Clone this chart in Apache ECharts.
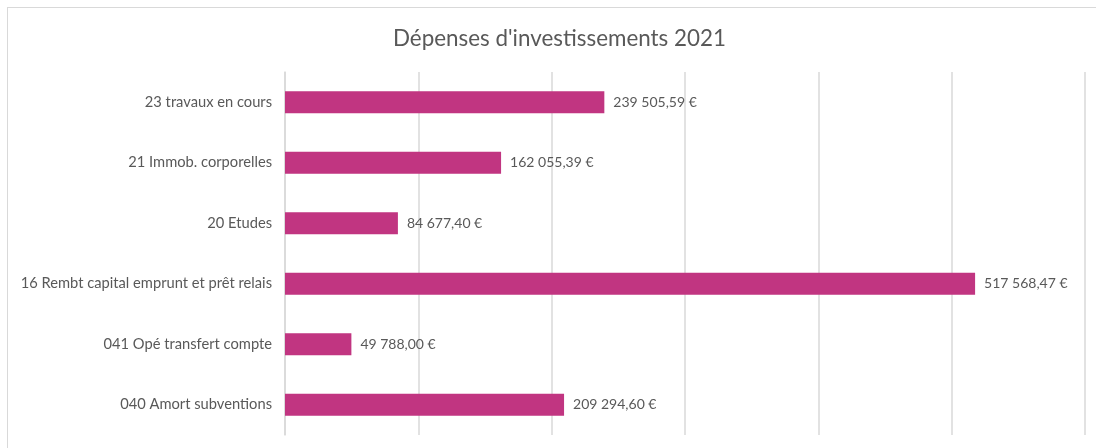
<!DOCTYPE html>
<html>
<head>
<meta charset="utf-8">
<script src="https://cdn.jsdelivr.net/npm/echarts@6/dist/echarts.min.js"></script>
<style>
  html, body { margin: 0; padding: 0; background: #fff; }
  #frame { position: absolute; left: 7px; top: 7px; width: 1200px; height: 600px; border: 1px solid #d9d9d9; }
  #chart { position: absolute; left: 0; top: 0; width: 1096px; height: 448px; }
</style>
</head>
<body>
<div id="frame"></div>
<div id="chart"></div>
<script>
  const categories = [
    '23 travaux en cours',
    '21 Immob. corporelles',
    '20 Etudes',
    '16 Rembt capital emprunt et prêt relais',
    '041 Opé transfert compte',
    '040 Amort subventions'
  ]
  const values = [239505.59, 162055.39, 84677.40, 517568.47, 49788.00, 209294.60]

  function euro(v) {
    let parts = v.toFixed(2).split('.')
    let intPart = parts[0].replace(/\B(?=(\d{3})+(?!\d))/g, ' ')
    return intPart + ',' + parts[1] + ' €'
  }

  let myChart = echarts.init(document.getElementById('chart'))
  myChart.setOption({
    backgroundColor: 'transparent',
    textStyle: { fontFamily: 'Lato' },
    title: {
      text: "Dépenses d'investissements 2021",
      left: 388,
      top: 23,
      textStyle: { fontFamily: 'Lato', fontSize: 22.4, fontWeight: 'normal', color: '#595959' }
    },
    grid: { left: 285, right: 11, top: 72, bottom: 13 },
    xAxis: {
      type: 'value',
      min: 0,
      max: 600000,
      interval: 100000,
      axisLabel: { show: false },
      axisTick: { show: false },
      axisLine: { show: false },
      splitLine: { lineStyle: { color: '#d9d9d9', width: 1.5 } }
    },
    yAxis: {
      type: 'category',
      inverse: true,
      data: categories,
      axisTick: { show: false },
      axisLine: { lineStyle: { color: '#d9d9d9', width: 1.5 } },
      axisLabel: { color: '#595959', fontSize: 14.7, fontFamily: 'Lato', margin: 13 }
    },
    series: [{
      type: 'bar',
      data: values,
      barWidth: 22,
      itemStyle: { color: '#c13581' },
      label: {
        show: true,
        position: 'right',
        distance: 9,
        color: '#595959',
        fontSize: 14,
        fontFamily: 'Lato',
        formatter: p => euro(p.value)
      },
      animation: false
    }]
  })
</script>
</body>
</html>
